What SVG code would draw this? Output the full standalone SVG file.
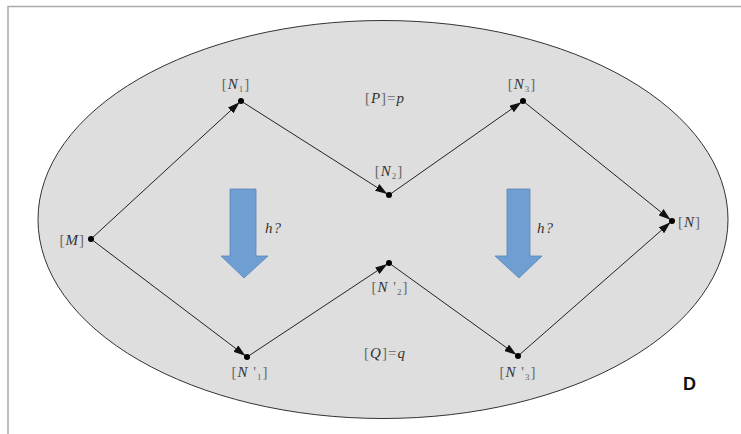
<svg xmlns="http://www.w3.org/2000/svg" width="741" height="434" viewBox="0 0 741 434">
<defs>
<marker id="ah" viewBox="0 0 12 8" refX="14" refY="4" markerWidth="12" markerHeight="8" markerUnits="userSpaceOnUse" orient="auto">
<path d="M0,0 L12,4 L0,8 Z" fill="#111"/>
</marker>
<style>
.lbl{font-family:"Liberation Serif","DejaVu Serif",serif;font-size:15px;fill:#666;letter-spacing:1px;}
.it{font-style:italic;fill:#333;}
.sub{font-size:9px;}
.edge{stroke:#222;stroke-width:1;fill:none;marker-end:url(#ah);}
.dot{fill:#000;}
.big{fill:#6f9ed3;stroke:#5a86ba;stroke-width:0.8;}
</style>
</defs>
<rect x="0" y="0" width="741" height="434" fill="#fff"/>
<path d="M8,434 V6.5 H741" fill="none" stroke="#aaa" stroke-width="1.5"/>
<ellipse id="domain" cx="383" cy="219.5" rx="345" ry="199" fill="#dedede" stroke="#333" stroke-width="1"/>

<g id="arrowL"><path class="big" d="M230,189 H256 V256 H268 L244,278 L221,256 H230 Z"/></g>
<g id="arrowR"><path class="big" d="M507,189 H530 V256 H542 L519,278 L495,256 H507 Z"/></g>

<g id="connectors">
<line class="edge" x1="91" y1="239" x2="241" y2="101"/>
<line class="edge" x1="241" y1="101" x2="389" y2="195"/>
<line class="edge" x1="389" y1="195" x2="523" y2="101"/>
<line class="edge" x1="523" y1="101" x2="672" y2="221"/>
<line class="edge" x1="91" y1="239" x2="247" y2="357"/>
<line class="edge" x1="247" y1="357" x2="389" y2="263"/>
<line class="edge" x1="389" y1="263" x2="518" y2="356"/>
<line class="edge" x1="518" y1="356" x2="672" y2="221"/>
</g>

<g id="M"><circle class="dot" cx="91" cy="239" r="3"/><text class="lbl" x="85" y="245" text-anchor="end">[<tspan class="it">M</tspan>]</text></g>
<g id="N1"><circle class="dot" cx="241" cy="101" r="3"/><text class="lbl" x="236" y="89" text-anchor="middle">[<tspan class="it">N</tspan><tspan class="sub" dy="3">1</tspan><tspan dy="-3">]</tspan></text></g>
<g id="N2"><circle class="dot" cx="389" cy="195" r="3"/><text class="lbl" x="389" y="176" text-anchor="middle">[<tspan class="it">N</tspan><tspan class="sub" dy="3">2</tspan><tspan dy="-3">]</tspan></text></g>
<g id="N3"><circle class="dot" cx="523" cy="101" r="3"/><text class="lbl" x="522" y="89" text-anchor="middle">[<tspan class="it">N</tspan><tspan class="sub" dy="3">3</tspan><tspan dy="-3">]</tspan></text></g>
<g id="N"><circle class="dot" cx="672" cy="221" r="3"/><text class="lbl" x="678" y="227">[<tspan class="it">N</tspan>]</text></g>
<g id="Np1"><circle class="dot" cx="247" cy="357" r="3"/><text class="lbl" x="250" y="377" text-anchor="middle">[<tspan class="it">N</tspan> '<tspan class="sub" dy="3">1</tspan><tspan dy="-3">]</tspan></text></g>
<g id="Np2"><circle class="dot" cx="389" cy="263" r="3"/><text class="lbl" x="390" y="292" text-anchor="middle">[<tspan class="it">N</tspan> '<tspan class="sub" dy="3">2</tspan><tspan dy="-3">]</tspan></text></g>
<g id="Np3"><circle class="dot" cx="518" cy="356" r="3"/><text class="lbl" x="518" y="377" text-anchor="middle">[<tspan class="it">N</tspan> '<tspan class="sub" dy="3">3</tspan><tspan dy="-3">]</tspan></text></g>

<text class="lbl" x="385" y="103" text-anchor="middle">[<tspan class="it">P</tspan>]=<tspan class="it">p</tspan></text>
<text class="lbl" x="385" y="358" text-anchor="middle">[<tspan class="it">Q</tspan>]=<tspan class="it">q</tspan></text>
<text class="lbl it" x="265" y="233">h?</text>
<text class="lbl it" x="537" y="233">h?</text>
<text x="683" y="390" font-family="Liberation Sans,Arial,sans-serif" font-weight="bold" font-size="18" fill="#111">D</text>
</svg>
